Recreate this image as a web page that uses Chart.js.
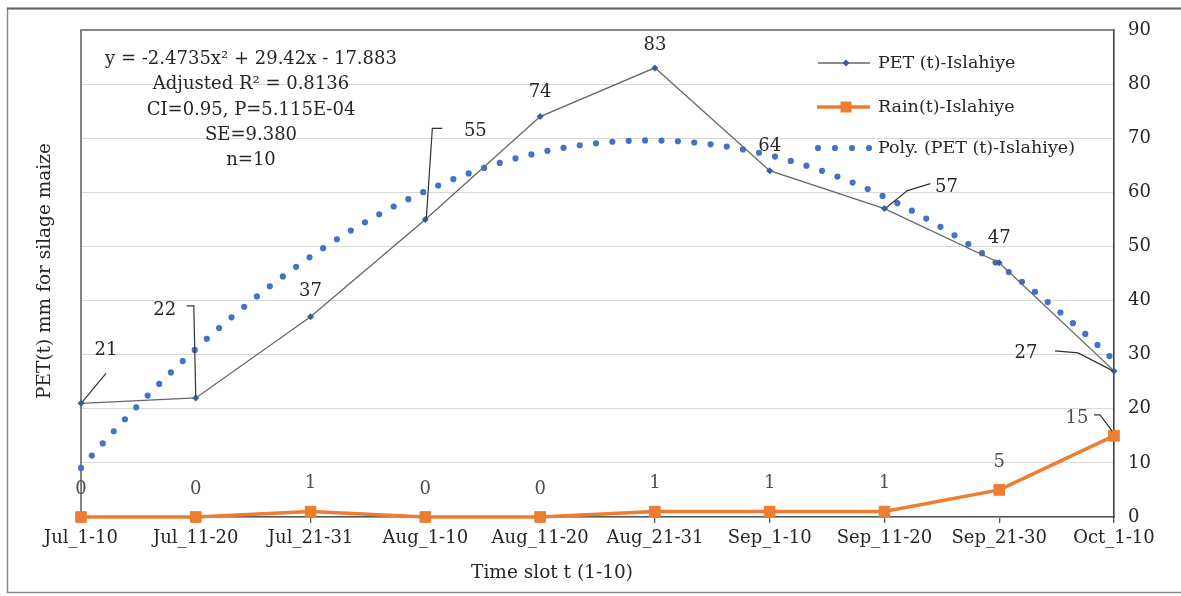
<!DOCTYPE html>
<html>
<head>
<meta charset="utf-8">
<script src="https://cdn.jsdelivr.net/npm/chart.js@4/dist/chart.umd.min.js"></script>
<style>
  html, body { margin: 0; padding: 0; background: #ffffff; }
  canvas { display: block; }
</style>
</head>
<body>
<canvas id="petChart" width="1181" height="596"></canvas>
<script>
// Ten-day time slots, July to early October
const slotLabels = ['Jul_1-10', 'Jul_11-20', 'Jul_21-31', 'Aug_1-10', 'Aug_11-20',
                    'Aug_21-31', 'Sep_1-10', 'Sep_11-20', 'Sep_21-30', 'Oct_1-10'];
// Potential evapotranspiration of silage maize (mm) per slot
const petIslahiye = [21, 22, 37, 55, 74, 83, 64, 57, 47, 27];
// Rainfall (mm) per slot
const rainIslahiye = [0, 0, 1, 0, 0, 1, 1, 1, 5, 15];
// Second-order fit of PET: y = a·x² + b·x + c
const polyCoefficients = [-2.4735, 29.42, -17.883];
const fitStats = ['Adjusted R\u00B2 = 0.8136', 'CI=0.95, P=5.115E-04', 'SE=9.380', 'n=10'];
// Right value axis
const yTickMin = 0, yTickMax = 90, yTickStep = 10;

const FONT = 'DejaVu Serif';
const TEXT = '#262626';
const ORANGE = '#ED7D31';
const BLUE = '#4472C4';
const PET_LINE = '#666666';
const PET_MARK = '#3B5C9A';

// Fitted curve sampled along the slot axis
const [pa, pb, pc] = polyCoefficients;
const trendPoints = [];
for (let k = 0; k <= 180; k++) {
  const t = 1 + k * 0.05;
  trendPoints.push({ x: t, y: pa * t * t + pb * t + pc });
}

// Data-label placement relative to each point (px), with optional leader polylines
const petLabelPlacement = [
  { dx: 25, dy: -53, leader: [[25, -30], [1, -1]] },
  { dx: -31, dy: -88, leader: [[-9, -92], [-2, -92], [0, -1]] },
  { dx: 0, dy: -25 },
  { dx: 50, dy: -88, leader: [[17, -91], [7, -91], [1, -1]] },
  { dx: 0, dy: -24 },
  { dx: 0, dy: -23 },
  { dx: 0, dy: -24 },
  { dx: 62, dy: -21, leader: [[46, -25], [23, -18], [2, -1]] },
  { dx: 0, dy: -24 },
  { dx: -88, dy: -18, leader: [[-59, -20], [-36, -18], [-1, 0]] }
];
const rainLabelPlacement = [
  { dx: 0, dy: -28 }, { dx: 0, dy: -28 }, { dx: 0, dy: -28 }, { dx: 0, dy: -28 },
  { dx: 0, dy: -28 }, { dx: 0, dy: -28 }, { dx: 0, dy: -28 }, { dx: 0, dy: -28 },
  { dx: 0, dy: -28 },
  { dx: -37, dy: -18, leader: [[-20, -21], [-14, -21], [-2, -5]] }
];

function equationText() {
  const sgn = v => (v < 0 ? ' - ' : ' + ');
  const lead = pa < 0 ? '-' : '';
  return 'y = ' + lead + Math.abs(pa) + 'x\u00B2' + sgn(pb) + Math.abs(pb) + 'x' +
         sgn(pc) + Math.abs(pc);
}

const decorPlugin = {
  id: 'decor',
  beforeDraw(chart) {
    const ctx = chart.ctx;
    ctx.save();
    ctx.fillStyle = '#ffffff';
    ctx.fillRect(0, 0, chart.width, chart.height);
    // outer frame
    ctx.strokeStyle = '#8a8a8a';
    ctx.lineWidth = 1.5;
    ctx.strokeRect(7.5, 8.5, chart.width + 10, chart.height - 12);
    ctx.strokeStyle = '#666666';
    ctx.lineWidth = 2;
    ctx.beginPath(); ctx.moveTo(7, 8.5); ctx.lineTo(chart.width, 8.5); ctx.stroke();
    ctx.restore();
  },
  beforeDatasetsDraw(chart) {
    const { ctx, chartArea: a } = chart;
    ctx.save();
    ctx.strokeStyle = '#666666';
    ctx.lineWidth = 1.6;
    ctx.beginPath();
    ctx.moveTo(a.left, a.bottom);
    ctx.lineTo(a.left, a.top);
    ctx.lineTo(a.right, a.top);
    ctx.stroke();
    ctx.restore();
  },
  afterDatasetsDraw(chart) {
    const ctx = chart.ctx;
    ctx.save();
    ctx.textAlign = 'center';
    ctx.textBaseline = 'middle';
    ctx.font = '18px "' + FONT + '"';

    const drawLabels = (dsIndex, values, placement, color) => {
      const meta = chart.getDatasetMeta(dsIndex);
      meta.data.forEach((pt, i) => {
        const p = placement[i];
        if (p.leader) {
          ctx.strokeStyle = '#333333';
          ctx.lineWidth = 1.2;
          ctx.beginPath();
          p.leader.forEach(([lx, ly], j) => {
            if (j === 0) ctx.moveTo(pt.x + lx, pt.y + ly);
            else ctx.lineTo(pt.x + lx, pt.y + ly);
          });
          ctx.stroke();
        }
        ctx.fillStyle = color;
        ctx.fillText(String(values[i]), pt.x + p.dx, pt.y + p.dy);
      });
    };
    drawLabels(0, rainIslahiye, rainLabelPlacement, '#4d4d4d');
    drawLabels(1, petIslahiye, petLabelPlacement, TEXT);
    ctx.restore();
  },
  afterDraw(chart) {
    const ctx = chart.ctx;
    ctx.save();
    ctx.fillStyle = TEXT;
    ctx.textBaseline = 'middle';

    // fit statistics block
    ctx.textAlign = 'center';
    ctx.font = '18px "' + FONT + '"';
    const lines = [equationText()].concat(fitStats);
    const lineY = [59, 84, 110, 135, 160];
    lines.forEach((t, i) => ctx.fillText(t, 251, lineY[i]));

    // axis titles
    ctx.font = '18.5px "' + FONT + '"';
    ctx.fillText('Time slot t (1-10)', 552, 573);
    ctx.save();
    ctx.translate(45, 271);
    ctx.rotate(-Math.PI / 2);
    ctx.fillText('PET(t) mm for silage maize', 0, 0);
    ctx.restore();

    // legend
    ctx.textAlign = 'left';
    ctx.font = '17.5px "' + FONT + '"';
    // PET entry
    ctx.strokeStyle = PET_LINE;
    ctx.lineWidth = 1.3;
    ctx.beginPath(); ctx.moveTo(818, 63); ctx.lineTo(870, 63); ctx.stroke();
    ctx.fillStyle = PET_MARK;
    ctx.beginPath();
    ctx.moveTo(846, 59.5); ctx.lineTo(849.5, 63); ctx.lineTo(846, 66.5); ctx.lineTo(842.5, 63);
    ctx.closePath(); ctx.fill();
    ctx.fillStyle = TEXT;
    ctx.fillText('PET (t)-Islahiye', 878, 63);
    // Rain entry
    ctx.strokeStyle = ORANGE;
    ctx.lineWidth = 3.5;
    ctx.beginPath(); ctx.moveTo(817, 107); ctx.lineTo(870, 107); ctx.stroke();
    ctx.fillStyle = ORANGE;
    ctx.fillRect(840.5, 101.5, 11, 11);
    ctx.fillStyle = TEXT;
    ctx.fillText('Rain(t)-Islahiye', 878, 107);
    // Poly entry
    ctx.strokeStyle = BLUE;
    ctx.lineWidth = 6.2;
    ctx.lineCap = 'round';
    ctx.setLineDash([0, 17]);
    ctx.beginPath(); ctx.moveTo(818, 148); ctx.lineTo(872, 148); ctx.stroke();
    ctx.setLineDash([]);
    ctx.fillStyle = TEXT;
    ctx.fillText('Poly. (PET (t)-Islahiye)', 878, 148);
    ctx.restore();
  }
};

new Chart(document.getElementById('petChart'), {
  type: 'line',
  data: {
    datasets: [
      {
        label: 'Rain(t)-Islahiye',
        data: rainIslahiye.map((v, i) => ({ x: i + 1, y: v })),
        borderColor: ORANGE,
        backgroundColor: ORANGE,
        borderWidth: 3.5,
        pointStyle: 'rect',
        pointRadius: 7.5,
        pointBorderWidth: 1,
        pointBorderColor: ORANGE,
        pointBackgroundColor: ORANGE,
        tension: 0,
        clip: false
      },
      {
        label: 'PET (t)-Islahiye',
        data: petIslahiye.map((v, i) => ({ x: i + 1, y: v })),
        borderColor: PET_LINE,
        borderWidth: 1.3,
        pointStyle: 'rectRot',
        pointRadius: 3.5,
        pointBorderWidth: 0,
        pointBackgroundColor: PET_MARK,
        pointBorderColor: PET_MARK,
        tension: 0,
        clip: false
      },
      {
        label: 'Poly. (PET (t)-Islahiye)',
        data: trendPoints,
        borderColor: BLUE,
        borderWidth: 6.2,
        borderDash: [0, 16.4],
        borderCapStyle: 'round',
        pointRadius: 0,
        tension: 0,
        clip: false
      }
    ]
  },
  options: {
    responsive: false,
    animation: false,
    devicePixelRatio: 1,
    layout: { padding: { left: 81, top: 30, right: 0, bottom: 0 } },
    plugins: { legend: { display: false }, tooltip: { enabled: false } },
    scales: {
      x: {
        type: 'linear',
        min: 1,
        max: 10,
        ticks: {
          stepSize: 1,
          autoSkip: false,
          maxRotation: 0,
          padding: 5,
          color: TEXT,
          font: { family: FONT, size: 18 },
          callback: v => slotLabels[Math.round(v) - 1] || ''
        },
        grid: { drawOnChartArea: false, drawTicks: true, tickLength: 6, color: '#595959', lineWidth: 1.3 },
        border: { display: true, color: '#595959', width: 1.6 },
        afterFit: s => { s.height = 79; }
      },
      y: {
        position: 'right',
        min: yTickMin,
        max: yTickMax,
        ticks: {
          stepSize: yTickStep,
          padding: 14,
          color: TEXT,
          font: { family: FONT, size: 18 }
        },
        grid: { color: '#d9d9d9', lineWidth: 1, drawTicks: false },
        border: { display: true, color: '#404040', width: 1.6 },
        afterFit: s => { s.width = 67; }
      }
    }
  },
  plugins: [decorPlugin]
});
</script>
</body>
</html>
